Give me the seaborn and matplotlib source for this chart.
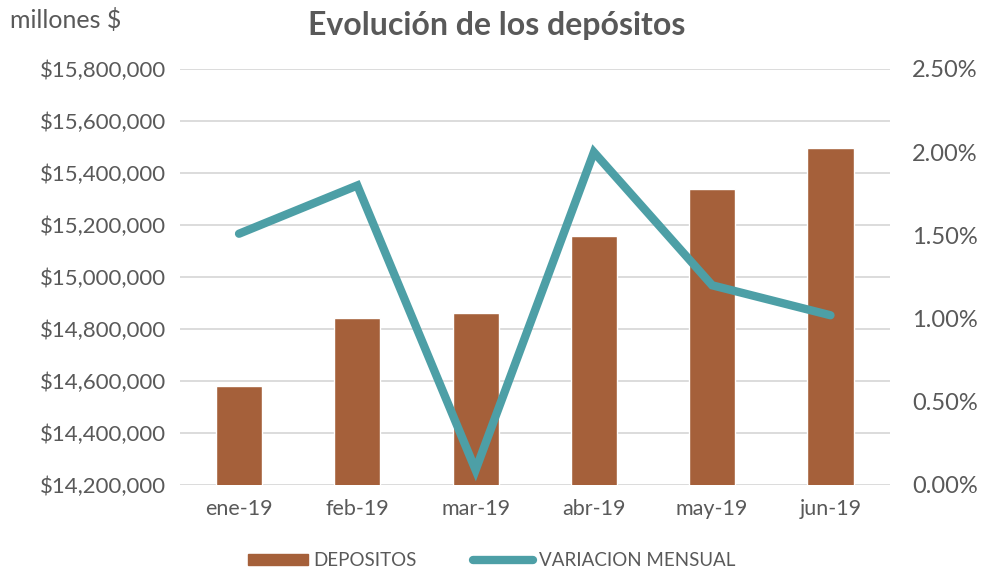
import pandas as pd
import seaborn as sns
import matplotlib.pyplot as plt
from matplotlib.ticker import FuncFormatter
from matplotlib.patches import Patch
from matplotlib.lines import Line2D

meses = ['ene-19', 'feb-19', 'mar-19', 'abr-19', 'may-19', 'jun-19']
depositos = [14580000, 14843000, 14860000, 15158000, 15338000, 15495000]
variacion = [1.51, 1.80, 0.09, 2.00, 1.20, 1.02]

df = pd.DataFrame({'mes': meses, 'depositos': depositos, 'variacion': variacion})

sns.set_theme(style='white')
plt.rcParams['font.family'] = ['Lato', 'DejaVu Sans']
gris = '#595959'
cafe = '#A5603A'
azul = '#4D9FA6'

fig = plt.figure(figsize=(9.83, 5.73), dpi=100)
ax = fig.add_axes([0.183, 0.1536, 0.722, 0.726])

sns.barplot(data=df, x='mes', y='depositos', color=cafe, width=0.39,
            saturation=1, ax=ax, zorder=2)
ax.set_ylim(14200000, 15800000)
ax.set_yticks(range(14200000, 15800001, 200000))
ax.yaxis.set_major_formatter(FuncFormatter(lambda v, p: f'${v:,.0f}'))
ax.grid(axis='y', color='#D9D9D9', linewidth=1.3, zorder=0)
ax.set_axisbelow(True)
ax.set_xlabel('')
ax.set_ylabel('')
ax.set_xlim(-0.5, 5.5)
ax.tick_params(axis='y', colors=gris, labelsize=16, length=0, pad=10)
ax.tick_params(axis='x', colors=gris, labelsize=15.5, length=0, pad=10)
for s in ax.spines.values():
    s.set_visible(False)

ax2 = ax.twinx()
sns.lineplot(data=df, x='mes', y='variacion', color=azul, linewidth=6,
             ax=ax2, sort=False, solid_capstyle='round', solid_joinstyle='miter')
ax2.set_ylim(0, 2.5)
ax2.set_yticks([0, 0.5, 1.0, 1.5, 2.0, 2.5])
ax2.yaxis.set_major_formatter(FuncFormatter(lambda v, p: f'{v:.2f}%'))
ax2.set_ylabel('')
ax2.tick_params(axis='y', colors=gris, labelsize=17, length=0, pad=16)
for s in ax2.spines.values():
    s.set_visible(False)
ax2.set_xlim(-0.5, 5.5)

fig.text(0.505, 0.955, 'Evolución de los depósitos', ha='center', va='center',
         fontsize=23, fontweight='bold', color=gris)
fig.text(0.01, 0.965, 'millones $', ha='left', va='center', fontsize=18, color=gris)

handles = [Patch(color=cafe, label='DEPOSITOS'),
           Line2D([0], [0], color=azul, linewidth=6, solid_capstyle='round',
                  label='VARIACION MENSUAL')]
fig.legend(handles=handles, loc='center', bbox_to_anchor=(0.5, 0.022), ncol=2,
           frameon=False, fontsize=13.5, labelcolor=gris, handlelength=3.2,
           handleheight=0.55, columnspacing=3, handletextpad=0.3)

fig.savefig('out.png', dpi=100)
